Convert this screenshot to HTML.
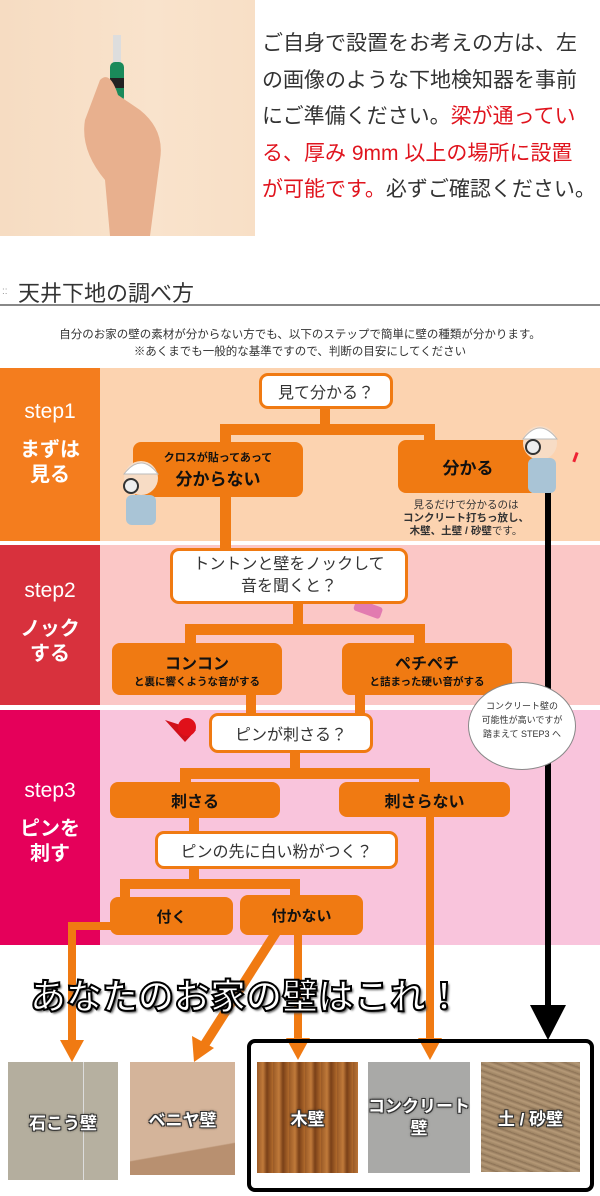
<!DOCTYPE html>
<html><head><meta charset="utf-8">
<style>
*{margin:0;padding:0;box-sizing:border-box}
body{width:600px;height:1196px;background:#fff;position:relative;overflow:hidden;font-family:"Liberation Sans","Noto Sans CJK JP",sans-serif;color:#222}
.a{position:absolute}
.ob{position:absolute;background:#f07a12;border-radius:8px;color:#111;font-weight:bold;text-align:center;display:flex;flex-direction:column;justify-content:center;align-items:center}
.wb{position:absolute;background:#fff;border:3px solid #f07a12;border-radius:9px;color:#333;text-align:center;display:flex;flex-direction:column;justify-content:center;align-items:center}
.st{position:absolute;left:0;width:100px;color:#fff;text-align:center}
.st .s{font-size:21px;margin-top:4px}
.st .j{font-size:20px;font-weight:bold;line-height:25px;margin-top:14px}
.ph{position:absolute;color:#fff;font-weight:bold;font-size:17px;text-align:center;display:flex;justify-content:center;align-items:center;text-shadow:-1px -1px 0 #333,1px -1px 0 #333,-1px 1px 0 #333,1px 1px 0 #333,0 0 3px #000}
</style></head><body>
<!-- photo -->
<div class="a" style="left:0;top:0;width:255px;height:236px;background:linear-gradient(90deg,#f6dcc2,#f9e3cc 60%,#f8dfc6)"></div>
<svg class="a" style="left:0;top:0" width="255" height="236">
<rect x="113" y="35" width="8" height="30" fill="#ddd"/>
<rect x="110" y="62" width="14" height="40" rx="5" fill="#1a8a5a"/>
<rect x="110" y="78" width="14" height="10" fill="#222"/>
<path d="M100 80 Q110 70 118 95 L140 110 Q165 130 160 160 L150 236 L110 236 L105 180 Q80 150 85 120 Z" fill="#e8b08e"/>
</svg>
<div class="a" style="left:262px;top:26px;font-size:21px;line-height:36.5px;color:#333;width:338px">ご自身で設置をお考えの方は、左<br>の画像のような下地検知器を事前<br>にご準備ください。<span style="color:#e0141e">梁が通ってい<br>る、厚み 9mm 以上の場所に設置<br>が可能です。</span>必ずご確認ください。</div>
<!-- header -->
<div class="a" style="left:2px;top:286px;font-size:10px;color:#999">::</div>
<div class="a" style="left:18px;top:276px;font-size:22px;color:#333">天井下地の調べ方</div>
<div class="a" style="left:0;top:304px;width:600px;height:2px;background:#888"></div>
<div class="a" style="left:0;top:327px;width:600px;text-align:center;font-size:11.5px;line-height:17px;color:#333">自分のお家の壁の素材が分からない方でも、以下のステップで簡単に壁の種類が分かります。<br>※あくまでも一般的な基準ですので、判断の目安にしてください</div>
<!-- bands -->
<div class="a" style="left:0;top:368px;width:600px;height:173px;background:#fcd3b0"></div>
<div class="a" style="left:0;top:368px;width:100px;height:173px;background:#f47d1e"></div>
<div class="a" style="left:0;top:545px;width:600px;height:160px;background:#fbc7c6"></div>
<div class="a" style="left:0;top:545px;width:100px;height:160px;background:#d8313d"></div>
<div class="a" style="left:0;top:710px;width:600px;height:235px;background:#f9c4dc"></div>
<div class="a" style="left:0;top:710px;width:100px;height:235px;background:#e5005a"></div>
<div class="st" style="top:396px"><div class="s">step1</div><div class="j">まずは<br>見る</div></div>
<div class="st" style="top:575px"><div class="s">step2</div><div class="j">ノック<br>する</div></div>
<div class="st" style="top:775px"><div class="s">step3</div><div class="j">ピンを<br>刺す</div></div>
<!-- connectors -->
<svg class="a" style="left:0;top:0" width="600" height="1196">
<g fill="#f07a12">
<rect x="320" y="405" width="10" height="25"/>
<rect x="220" y="424" width="215" height="11"/>
<rect x="220" y="424" width="11" height="130"/>
<rect x="424" y="424" width="11" height="30"/>
<rect x="293" y="600" width="10" height="30"/>
<rect x="185" y="624" width="240" height="11"/>
<rect x="185" y="624" width="11" height="24"/>
<rect x="414" y="624" width="11" height="24"/>
<rect x="246" y="690" width="10" height="30"/>
<rect x="355" y="690" width="10" height="30"/>
<rect x="290" y="748" width="10" height="25"/>
<rect x="180" y="768" width="250" height="11"/>
<rect x="180" y="768" width="11" height="20"/>
<rect x="419" y="768" width="11" height="20"/>
<rect x="189" y="815" width="10" height="22"/>
<rect x="189" y="865" width="10" height="20"/>
<rect x="120" y="879" width="180" height="10"/>
<rect x="120" y="879" width="10" height="22"/>
<rect x="290" y="879" width="10" height="22"/>
<rect x="68" y="922" width="50" height="8"/>
<rect x="68" y="922" width="8" height="120"/>
<polygon points="60,1040 84,1040 72,1062"/>
<rect x="294" y="930" width="8" height="110"/>
<polygon points="286,1038 310,1038 298,1060"/>
<rect x="426" y="815" width="8" height="225"/>
<polygon points="418,1038 442,1038 430,1060"/>
<polygon points="272,930 280,935 208,1048 200,1043"/>
<polygon points="192,1036 214,1048 194,1062"/>
</g>
<rect x="545" y="490" width="6" height="525" fill="#000"/>
<polygon points="530,1005 566,1005 548,1040" fill="#000"/>
<rect x="249" y="1041" width="343" height="149" rx="6" fill="none" stroke="#000" stroke-width="4"/>
</svg>
<!-- nodes -->
<div class="wb" style="left:259px;top:373px;width:134px;height:36px;font-size:16px">見て分かる？</div>
<div class="ob" style="left:133px;top:442px;width:170px;height:55px"><div style="font-size:11px">クロスが貼ってあって</div><div style="font-size:17px">分からない</div></div>
<div class="ob" style="left:398px;top:440px;width:140px;height:53px;font-size:17px">分かる</div>
<div class="a" style="left:390px;top:499px;width:152px;text-align:center;font-size:10.5px;line-height:13px;color:#333">見るだけで分かるのは<br><b>コンクリート打ちっ放し、<br>木壁、土壁 / 砂壁</b>です。</div>
<!-- characters -->
<svg class="a" style="left:0;top:0" width="600" height="1196">
<g>
<circle cx="141" cy="478" r="17" fill="#f7dcc5"/><path d="M124 474 Q141 452 158 474 Z" fill="#fff" stroke="#bbb"/>
<rect x="126" y="495" width="30" height="30" rx="6" fill="#a9c4d6"/>
<circle cx="131" cy="486" r="7" fill="#eee" stroke="#333" stroke-width="2"/>
<circle cx="540" cy="443" r="17" fill="#f7dcc5"/><path d="M523 439 Q540 417 557 439 Z" fill="#fff" stroke="#bbb"/>
<rect x="528" y="458" width="28" height="35" rx="6" fill="#a9c4d6"/>
<circle cx="533" cy="447" r="7" fill="#eee" stroke="#333" stroke-width="2"/>
<rect x="574" y="452" width="3" height="10" fill="#e23" transform="rotate(20 575 457)"/>
</g>
<path d="M165 720 L185 742 L196 730 Z" fill="#d0101a"/><circle cx="187" cy="727" r="9" fill="#e0101a"/>
<path d="M345 585 q10 -12 20 -2 l10 20 l-15 8 z" fill="#f0b090"/><rect x="355" y="600" width="28" height="12" rx="3" fill="#e27bb0" transform="rotate(20 360 605)"/>
</svg>
<div class="wb" style="left:170px;top:548px;width:238px;height:56px;font-size:16px;line-height:22px">トントンと壁をノックして<br>音を聞くと？</div>
<div class="ob" style="left:112px;top:643px;width:170px;height:52px"><div style="font-size:16px">コンコン</div><div style="font-size:10.5px">と裏に響くような音がする</div></div>
<div class="ob" style="left:342px;top:643px;width:170px;height:52px"><div style="font-size:16px">ペチペチ</div><div style="font-size:10.5px">と詰まった硬い音がする</div></div>
<div class="a" style="left:468px;top:682px;width:108px;height:88px;border-radius:50%;background:#fff;border:1px solid #888;font-size:9px;line-height:14px;text-align:center;padding-top:16px;color:#333">コンクリート壁の<br>可能性が高いですが<br>踏まえて STEP3 へ</div>
<div class="wb" style="left:209px;top:713px;width:164px;height:40px;font-size:16px">ピンが刺さる？</div>
<div class="ob" style="left:110px;top:782px;width:170px;height:36px;font-size:16px">刺さる</div>
<div class="ob" style="left:339px;top:782px;width:171px;height:35px;font-size:16px">刺さらない</div>
<div class="wb" style="left:155px;top:831px;width:243px;height:38px;font-size:16px">ピンの先に白い粉がつく？</div>
<div class="ob" style="left:110px;top:897px;width:123px;height:38px;font-size:15px">付く</div>
<div class="ob" style="left:240px;top:895px;width:123px;height:40px;font-size:15px">付かない</div>
<div class="a" style="left:30px;top:968px;font-size:36px;font-weight:bold;color:#fff;-webkit-text-stroke:2px #000;text-shadow:2px 2px 2px #555;white-space:nowrap">あなたのお家の壁はこれ！</div>
<!-- photos -->
<div class="ph" style="left:8px;top:1062px;width:110px;height:118px;background:linear-gradient(90deg,#b4ae9e 68%,#ddd 68%,#ddd 69%,#b6b0a0 69%)">石こう壁</div>
<div class="ph" style="left:130px;top:1062px;width:105px;height:113px;background:linear-gradient(170deg,#d4b49a 75%,#b89070 76%)">ベニヤ壁</div>
<div class="ph" style="left:257px;top:1062px;width:101px;height:111px;background:repeating-linear-gradient(90deg,#9a5a26 0,#c07a3a 6px,#7a4018 10px,#b06a2c 16px)">木壁</div>
<div class="ph" style="left:368px;top:1062px;width:102px;height:111px;background:#a9a9a7;line-height:22px">コンクリート<br>壁</div>
<div class="ph" style="left:481px;top:1062px;width:99px;height:110px;background:repeating-linear-gradient(20deg,#9c8262 0,#b69a78 3px,#8a7054 6px)">土 / 砂壁</div>
</body></html>
